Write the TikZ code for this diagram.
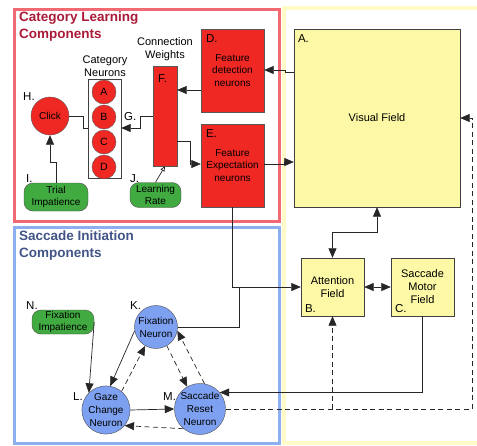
\documentclass[tikz,border=0pt]{standalone}
\usepackage{fontspec}
\setmainfont{Liberation Sans}
\usetikzlibrary{arrows.meta,positioning}

\definecolor{catred}{RGB}{240,40,35}
\definecolor{framered}{RGB}{240,105,115}
\definecolor{titlered}{RGB}{170,25,55}
\definecolor{frameblue}{RGB}{140,175,240}
\definecolor{titleblue}{RGB}{65,85,135}
\definecolor{frameyellow}{RGB}{255,250,200}
\definecolor{fieldyellow}{RGB}{252,248,165}
\definecolor{paramgreen}{RGB}{65,170,65}
\definecolor{neuronblue}{RGB}{125,160,240}

\tikzset{
	field/.style={draw=black!75, fill=fieldyellow, inner sep=0, align=center,
		font=\fontsize{11}{13}\selectfont},
	redbox/.style={draw=black!65, fill=catred, inner sep=0, align=center,
		font=\fontsize{10}{12.5}\selectfont},
	catneuron/.style={circle, draw=black!65, fill=catred, minimum size=24pt, inner sep=0,
		font=\fontsize{10.5}{12}\selectfont},
	sacneuron/.style={circle, draw=black!70, fill=neuronblue, minimum size=43pt, inner sep=0,
		align=center, font=\fontsize{10}{13}\selectfont},
	param/.style={draw=black!70, fill=paramgreen, rounded corners=9pt, inner sep=0,
		align=center, font=\fontsize{10}{12.5}\selectfont},
	tag/.style={inner sep=0, anchor=base west, font=\fontsize{11.5}{13}\selectfont},
	caption/.style={inner sep=0, align=center, font=\fontsize{11}{13}\selectfont},
	title/.style={inner sep=0, anchor=north west, align=left,
		font=\fontsize{13.5}{16.5}\selectfont\bfseries},
	wire/.style={draw=black!85, line width=0.7pt},
	dashwire/.style={wire, dashed, dash pattern=on 5pt off 3.5pt}
}

\begin{document}
\begin{tikzpicture}[x=1pt, y=-1pt, >={Triangle[length=9.5pt,width=8pt]}]
	\useasboundingbox (0,0) rectangle (477,445);
	% frames
	\begin{scope}
		\clip (0,0) rectangle (477,445);
		\draw[frameyellow, line width=4pt] (284,8) rectangle (490,443);
	\end{scope}
	\draw[framered, line width=3pt] (14,9) rectangle (279,221);
	\draw[frameblue, line width=3pt] (14,227) rectangle (279,443);
	\node[title, text=titlered] (cattitle) at (19,12) {Category Learning\\Components};
	\node[title, text=titleblue] (sactitle) at (19,231) {Saccade Initiation\\Components};

	% fields
	\node[field, minimum width=166pt, minimum height=178pt] (visual) at (377,118) {Visual Field};
	\node[field, minimum width=63pt, minimum height=58pt] (attn) at (332.5,287) {Attention\\Field};
	\node[field, minimum width=63pt, minimum height=58pt] (motor) at (422.5,287) {Saccade\\Motor\\Field};
	\node[tag] at ([shift={(4,14)}]visual.north west) {A.};
	\node[tag] at ([shift={(4,-4)}]attn.south west) {B.};
	\node[tag] at ([shift={(4,-4)}]motor.south west) {C.};

	% category learning
	\node[redbox, minimum width=63pt, minimum height=83pt] (detect) at (232.5,70.5) {Feature\\detection\\neurons};
	\node[redbox, minimum width=63pt, minimum height=83pt] (expect) at (232.5,165.5) {Feature\\Expectation\\neurons};
	\node[redbox, minimum width=24pt, minimum height=100pt] (weights) at (165,116) {};
	\node[tag] at ([shift={(5,14)}]detect.north west) {D.};
	\node[tag] at ([shift={(5,14)}]expect.north west) {E.};
	\node[tag] at ([shift={(5,17)}]weights.north west) {F.};
	\node[caption] (wcap) at (165,49) {Connection\\Weights};

	\node[draw=black!75, fill=white, minimum width=33pt, minimum height=99pt, inner sep=0] (catbox) at (104.5,128.5) {};
	\node[catneuron] (ca) at (104,92) {A};
	\node[catneuron] (cb) at (104,117) {B};
	\node[catneuron] (cc) at (104,142) {C};
	\node[catneuron] (cd) at (104,167) {D};
	\node[caption] (ccap) at (105,66) {Category\\Neurons};

	\node[catneuron, minimum size=38pt, font=\fontsize{10}{12}\selectfont] (click) at (50,116) {Click};
	\node[param, minimum width=64pt, minimum height=28pt] (trial) at (56,197) {Trial\\Impatience};
	\node[param, minimum width=51pt, minimum height=25pt] (rate) at (155.5,195) {Learning\\Rate};
	\node[tag] at (23,100) {H.};
	\node[tag] at (26,182) {I.};
	\node[tag] at (130,182) {J.};
	\node[tag] at (124,120) {G.};

	% saccade initiation
	\node[sacneuron] (fix) at (156,327) {Fixation\\Neuron};
	\node[sacneuron] (gaze) at (106,410) {Gaze\\Change\\Neuron};
	\node[sacneuron] (reset) at (200,409) {Saccade\\Reset\\Neuron};
	\node[param, minimum width=62pt, minimum height=24pt] (fimp) at (63,322) {Fixation\\Impatience};
	\node[tag] at (130,309) {K.};
	\node[tag] at (73,400) {L.};
	\node[tag] at (163,400) {M.};
	\node[tag] at (26,309) {N.};

	% connections
	\path[wire, ->]
	(visual.west |- 0,72) -- (285,72) -- (285,70) -- (detect.east |- 0,70);
	\path[wire, ->] (detect.west |- 0,90) -- (weights.east |- 0,90);
	\path[wire, ->] (weights.west |- 0,116) -- (140,116) -- (140,128) -- (catbox.east |- 0,128);
	\path[wire] (catbox.west |- 0,128) -- (83,128) -- (83,116) -- (click.east);
	\path[wire, ->] (trial.north) -- (trial.north |- 0,162) -| (click.south);
	\path[wire, -{Triangle[open,length=5pt,width=4.5pt]}] (rate.north) -- (weights.south);
	\path[wire, ->] (weights.east |- 0,141) -- (190,141) |- (expect.west |- 0,164);
	\path[wire, ->] (expect.east |- 0,164) -- (284,164) -- (284,162) -- (visual.west |- 0,162);
	\path[wire, ->] (expect.south) |- (attn.west);
	\path[wire] (fix.east) -| (239,287);
	\path[wire, <->] (visual.south) -- (visual.south |- 0,232) -| (attn.north);
	\path[wire, <->] (attn.east) -- (motor.west);
	\path[wire, ->] (motor.south) |- (reset.40);
	\path[dashwire, ->] (reset.east) -- (472,409) |- (visual.east);
	\path[dashwire, ->] (attn.south |- reset.east) -- (attn.south);

	\path[wire, ->] (fimp.east) -- (gaze.north west);
	\path[wire, ->] (fix.190) -- (gaze.80);
	\path[wire, ->] (gaze.east) -- (reset.west);
	\path[dashwire, ->] (gaze.50) -- (fix.240);
	\path[dashwire, ->] (fix.300) -- (reset.120);
	\path[dashwire, ->] (reset.80) -- (fix.350);
	\path[dashwire, ->] (reset.230) -- (gaze.320);
\end{tikzpicture}
\end{document}
